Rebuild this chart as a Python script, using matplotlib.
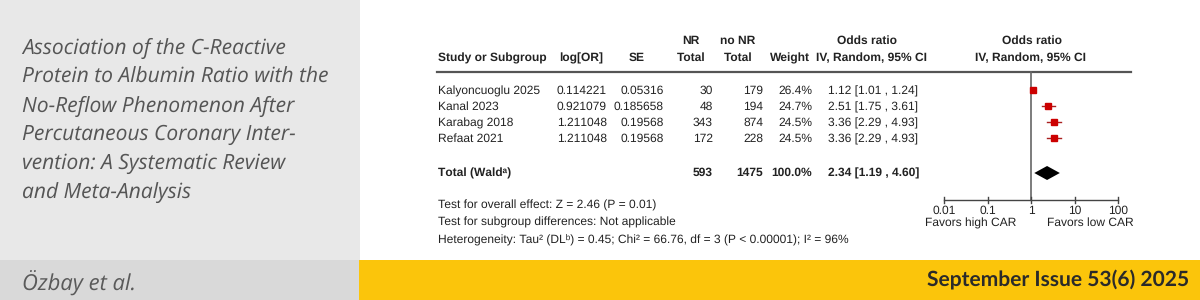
import matplotlib.pyplot as plt
import numpy as np
from matplotlib.patches import Rectangle

plt.rcParams["text.hinting"] = "no_hinting"
plt.rcParams["text.hinting_factor"] = 1

# forest plot data
studies = ["Kalyoncuoglu 2025", "Kanal 2023", "Karabag 2018", "Refaat 2021"]
log_or = ["0.114221", "0.921079", "1.211048", "1.211048"]
se = ["0.05316", "0.185658", "0.19568", "0.19568"]
nr_total = [30, 48, 343, 172]
no_nr_total = [179, 194, 874, 228]
weight = [26.4, 24.7, 24.5, 24.5]
odds = [1.12, 2.51, 3.36, 3.36]
ci_low = [1.01, 1.75, 2.29, 2.29]
ci_high = [1.24, 3.61, 4.93, 4.93]
total_nr, total_no_nr, total_weight = 593, 1475, 100.0
total_or, total_low, total_high = 2.34, 1.19, 4.60
axis_ticks = [0.01, 0.1, 1, 10, 100]
axis_labels = ["0.01", "0.1", "1", "10", "100"]

title_lines = ["Association of the C-Reactive", "Protein to Albumin Ratio with the",
               "No-Reflow Phenomenon After", "Percutaneous Coronary Inter-",
               "vention: A Systematic Review", "and Meta-Analysis"]

fig = plt.figure(figsize=(12, 3), dpi=100)
bg = fig.add_axes([0, 0, 1, 1])
bg.set_xlim(0, 1200)
bg.set_ylim(300, 0)
bg.axis("off")

# background panels
bg.add_patch(Rectangle((0, 0), 360, 260, color="#e8e8e8", lw=0))
bg.add_patch(Rectangle((0, 260), 359, 40, color="#d9d9d9", lw=0))
bg.add_patch(Rectangle((359, 260), 841, 40, color="#fbc50b", lw=0))

for i, line in enumerate(title_lines):
    bg.text(22, 48 + i * 29, line, fontsize=15.3, family="Open Sans", style="italic",
            color="#555555", va="center", ha="left")
bg.text(22, 282, "Özbay et al.", fontsize=15.5, family="Open Sans", style="italic",
        color="#5a5a5a", va="center")
bg.text(1189, 280, "September Issue 53(6) 2025", fontsize=15, family="Lato",
        fontweight="bold", color="#2a2a2a", va="center", ha="right")

# table
fs = 8.3
tf = dict(fontsize=fs, family="Liberation Sans", color="#222222", va="center")
hb = dict(tf, fontweight="bold")
bg.text(438, 58, "Study or Subgroup", ha="left", **hb)
bg.text(581, 58, "log[OR]", ha="center", **hb)
bg.text(637, 58, "SE", ha="center", **hb)
bg.text(691, 41, "NR", ha="center", **hb)
bg.text(691, 58, "Total", ha="center", **hb)
bg.text(738, 41, "no NR", ha="center", **hb)
bg.text(738, 58, "Total", ha="center", **hb)
bg.text(790, 58, "Weight", ha="center", **hb)
bg.text(867, 41, "Odds ratio", ha="center", **hb)
bg.text(871, 58, "IV, Random, 95% CI", ha="center", **hb)
bg.text(1032, 41, "Odds ratio", ha="center", **hb)
bg.text(1030, 58, "IV, Random, 95% CI", ha="center", **hb)
bg.plot([437, 1131], [72, 72], color="#555555", lw=1.6)

row_y = [91, 107, 123, 139]
for i, y in enumerate(row_y):
    bg.text(438, y, studies[i], ha="left", **tf)
    bg.text(607, y, log_or[i], ha="right", **tf)
    bg.text(664, y, se[i], ha="right", **tf)
    bg.text(713, y, str(nr_total[i]), ha="right", **tf)
    bg.text(763, y, str(no_nr_total[i]), ha="right", **tf)
    bg.text(812, y, f"{weight[i]:.1f}%", ha="right", **tf)
    bg.text(828, y, f"{odds[i]:.2f} [{ci_low[i]:.2f} , {ci_high[i]:.2f}]", ha="left", **tf)

ty = 173
bg.text(438, ty, "Total (Wald\u1d43)", ha="left", **hb)
bg.text(713, ty, str(total_nr), ha="right", **hb)
bg.text(763, ty, str(total_no_nr), ha="right", **hb)
bg.text(812, ty, f"{total_weight:.1f}%", ha="right", **hb)
bg.text(828, ty, f"{total_or:.2f} [{total_low:.2f} , {total_high:.2f}]", ha="left", **hb)

bg.text(438, 205, "Test for overall effect: Z = 2.46 (P = 0.01)", ha="left", **tf)
bg.text(438, 222, "Test for subgroup differences: Not applicable", ha="left", **tf)
bg.text(438, 239, "Heterogeneity: Tau\u00b2 (DL\u1d47) = 0.45; Chi\u00b2 = 66.76, df = 3 (P < 0.00001); I\u00b2 = 96%",
        ha="left", **tf)

# forest panel on a log axis
x0, x1 = 850, 1200
ox, dec = 1031, 43.5
fax = fig.add_axes([x0 / 1200, 0, (x1 - x0) / 1200, 1])
fax.set_xscale("log")
fax.set_xlim(10 ** ((x0 - ox) / dec), 10 ** ((x1 - ox) / dec))
fax.set_ylim(300, 0)
fax.axis("off")
fax.patch.set_alpha(0)

fax.plot([1, 1], [72, 200], color="#666666", lw=1.2)
for i, y in enumerate(row_y):
    fax.plot([ci_low[i], ci_high[i]], [y - 1, y - 1], color="#aa2020", lw=1)
    fax.plot(odds[i], y - 1, marker="s", color="#cc0000", markersize=weight[i] * 0.17, lw=0)
fax.fill([total_low, total_or, total_high, total_or], [ty, ty - 7, ty, ty + 7], color="black", lw=0)

fax.plot([axis_ticks[0], axis_ticks[-1]], [200, 200], color="#444444", lw=1)
for t, lab in zip(axis_ticks, axis_labels):
    fax.plot([t, t], [197, 203], color="#444444", lw=1)
    fax.text(t, 211, lab, ha="center", va="center", fontsize=fs, family="Liberation Sans", color="#222222")
fax.text(10 ** -1.38, 223, "Favors high CAR", ha="center", va="center", fontsize=fs,
         family="Liberation Sans", color="#222222")
fax.text(10 ** 1.36, 223, "Favors low CAR", ha="center", va="center", fontsize=fs,
         family="Liberation Sans", color="#222222")

fig.savefig("out.png", dpi=100)
